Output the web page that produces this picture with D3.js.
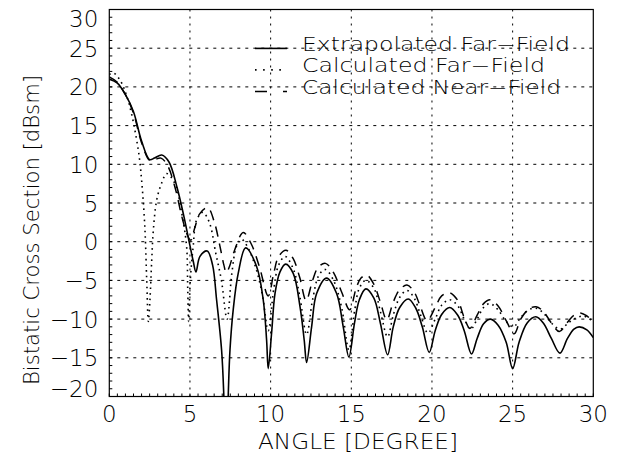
<!DOCTYPE html>
<html>
<head>
<meta charset="utf-8">
<script src="https://cdn.jsdelivr.net/npm/d3@7"></script>
<style>
  body { margin: 0; background: #fff; }
  text { font-family: "DejaVu Sans ExtraLight", "DejaVu Sans", sans-serif; font-weight: 200; fill: #000; }
</style>
</head>
<body>
<div id="chart"></div>
<script>
// angle [deg], bistatic RCS [dBsm]
const extrapolatedFF = [
  [0, 21.0], [0.5, 20.5], [1.0, 19.0], [1.5, 16.8], [2.0, 13.0], [2.5, 10.6], [2.8, 10.8],
  [3.25, 11.2], [3.7, 10.3], [4.2, 7.0], [4.6, 3.5], [4.9, 0.5], [5.2, -2.5], [5.37, -3.9],
  [5.62, -1.9], [6.07, -1.2], [6.4, -3.0], [6.65, -7.5], [6.96, -14], [7.1, -20], [7.23, -30],
  [7.37, -20], [7.48, -14], [7.68, -8.8], [7.99, -4.1], [8.45, -0.8], [9.13, -3.2], [9.54, -7.5],
  [9.75, -12.7], [9.85, -16.4], [10.06, -11.8], [10.27, -6.7], [10.58, -3.9], [10.93, -2.9],
  [11.4, -4.1], [11.82, -8.4], [12.08, -12.7], [12.23, -15.6], [12.54, -11], [12.85, -6.7],
  [13.47, -4.7], [14.09, -6.7], [14.5, -11], [14.85, -14.9], [15.2, -10.5], [15.5, -7.5],
  [15.9, -6.1], [16.4, -7.3], [16.8, -10.5], [17.25, -14.6], [17.6, -11], [18.0, -8.5],
  [18.53, -7.4], [19.0, -8.6], [19.4, -11], [19.83, -14.3], [20.2, -11.5], [20.6, -9.4],
  [21.1, -8.5], [21.6, -9.5], [22.0, -11.5], [22.45, -14.5], [22.8, -12.5], [23.2, -10.6],
  [23.63, -10.0], [24.1, -10.8], [24.6, -13], [25.0, -16.4], [25.4, -13], [25.9, -10.5],
  [26.44, -9.7], [26.9, -10.5], [27.4, -12.5], [27.93, -14.4], [28.4, -12.5], [28.8, -11.3],
  [29.12, -11.0], [29.6, -11.4], [30.0, -12.4]
];

const calculatedFF = [
  [0, 21.6], [0.25, 21.8], [0.66, 20.9], [1.2, 18.0], [1.8, 11.8], [2.0, 8.0], [2.2, 2.0],
  [2.32, -5.0], [2.42, -10.3], [2.52, -7.5], [2.63, -2.4], [2.73, 1.5], [2.94, 5.4], [3.25, 7.6],
  [3.56, 8.8], [4.07, 7.5], [4.49, 3.7], [4.79, -0.6], [4.86, -6.0], [4.92, -10.3], [5.02, -5.0],
  [5.2, -0.6], [5.41, 2.8], [5.8, 3.8], [6.2, 2.5], [6.6, -1.5], [6.95, -5], [7.3, -10],
  [7.6, -4], [7.9, -0.5], [8.2, 0.3], [8.6, -0.8], [9.1, -3.5], [9.5, -7], [9.85, -11.5],
  [10.2, -6], [10.5, -3], [10.9, -1.9], [11.4, -3.5], [11.8, -7], [12.23, -12], [12.6, -7.5],
  [13.0, -4.3], [13.4, -3.6], [13.9, -5.0], [14.4, -8.5], [14.85, -14], [15.2, -9], [15.5, -6],
  [15.9, -5.0], [16.4, -6], [16.8, -9], [17.25, -12.3], [17.6, -9.5], [18.0, -7.2],
  [18.45, -6.3], [18.9, -7.3], [19.3, -9.5], [19.75, -11.8], [20.2, -10], [20.6, -8.2],
  [21.1, -7.5], [21.6, -8.3], [22.0, -10], [22.4, -11.3], [22.8, -10], [23.2, -8.5],
  [23.6, -8.0], [24.1, -8.8], [24.6, -10.3], [25.05, -11.0], [25.5, -9.8], [26.0, -8.8],
  [26.45, -8.6], [26.9, -9.2], [27.4, -10.5], [27.95, -11.3], [28.5, -10.4], [29.0, -9.8],
  [29.4, -9.6], [30.0, -10.3]
];

const calculatedNF = [
  [0, 21.3], [0.5, 20.6], [1.0, 19.0], [1.5, 16.6], [2.0, 12.8], [2.5, 10.5], [2.8, 10.6],
  [3.2, 10.8], [3.6, 9.9], [4.1, 6.8], [4.5, 3.2], [4.85, 0.8], [5.05, 0.2], [5.3, 1.8],
  [5.6, 3.6], [6.1, 4.4], [6.5, 2.6], [6.85, -0.5], [7.1, -3.0], [7.25, -4.0], [7.45, -3.2],
  [7.75, -1.2], [8.3, 1.2], [8.8, -0.3], [9.3, -3.2], [9.85, -7.0], [10.2, -4.0], [10.5, -1.9],
  [10.95, -1.1], [11.4, -2.2], [11.8, -4.6], [12.2, -7.6], [12.6, -5.0], [12.95, -3.3],
  [13.4, -2.8], [13.9, -4.0], [14.4, -6.5], [14.9, -8.8], [15.3, -6.0], [15.6, -4.7],
  [15.95, -4.3], [16.4, -5.5], [16.8, -7.8], [17.2, -10.1], [17.6, -7.8], [18.0, -6.2],
  [18.45, -5.6], [18.9, -6.5], [19.3, -8.5], [19.7, -10.2], [20.2, -8.5], [20.6, -7.0],
  [21.1, -6.6], [21.6, -7.6], [22.0, -9.8], [22.35, -11.2], [22.8, -9.5], [23.2, -8.0],
  [23.6, -7.5], [24.1, -8.3], [24.6, -10.2], [25.1, -11.9], [25.5, -10], [26.0, -8.7],
  [26.45, -8.4], [26.9, -9.0], [27.4, -10.5], [27.9, -11.6], [28.4, -10.4], [28.8, -9.5],
  [29.2, -9.2], [29.6, -9.6], [30.0, -10.3]
];

const legendLabels = ["Extrapolated Far\u2212Field", "Calculated Far\u2212Field", "Calculated Near\u2212Field"];
const xTicks = [0, 5, 10, 15, 20, 25, 30];
const yTicks = [-20, -15, -10, -5, 0, 5, 10, 15, 20, 25, 30];

const width = 618, height = 464;
const margin = { top: 9.5, right: 24.7, bottom: 67.5, left: 109.3 };

const svg = d3.select("#chart").append("svg")
    .attr("width", width)
    .attr("height", height);

const x = d3.scaleLinear().domain([0, 30]).range([margin.left, width - margin.right]);
const y = d3.scaleLinear().domain([-20, 30]).range([height - margin.bottom, margin.top]);

const fmt = d => (d < 0 ? "\u2212" + Math.abs(d) : String(d));

// dotted grid
svg.append("g").selectAll("line")
    .data(xTicks.slice(1, -1))
    .enter().append("line")
    .attr("x1", d => x(d)).attr("x2", d => x(d))
    .attr("y1", y(-20)).attr("y2", y(30))
    .attr("stroke", "#000").attr("stroke-width", 1)
    .attr("stroke-dasharray", "2,5");

svg.append("g").selectAll("line")
    .data(yTicks.slice(1, -1))
    .enter().append("line")
    .attr("x1", x(0)).attr("x2", x(30))
    .attr("y1", d => y(d)).attr("y2", d => y(d))
    .attr("stroke", "#000").attr("stroke-width", 1)
    .attr("stroke-dasharray", "3,5");

// minor ticks
svg.append("g").selectAll("line")
    .data(d3.range(-20, 31, 1))
    .enter().append("line")
    .attr("x1", x(0)).attr("x2", x(0) + 3)
    .attr("y1", d => y(d)).attr("y2", d => y(d))
    .attr("stroke", "#000");

svg.append("g").selectAll("line")
    .data(d3.range(0, 30.01, 0.5))
    .enter().append("line")
    .attr("x1", d => x(d)).attr("x2", d => x(d))
    .attr("y1", y(-20)).attr("y2", y(-20) - 3)
    .attr("stroke", "#000");

// frame
svg.append("rect")
    .attr("x", x(0)).attr("y", y(30))
    .attr("width", x(30) - x(0)).attr("height", y(-20) - y(30))
    .attr("fill", "none").attr("stroke", "#000").attr("stroke-width", 1.2);

// tick labels
svg.append("g").selectAll("text")
    .data(xTicks)
    .enter().append("text")
    .attr("x", d => x(d))
    .attr("y", y(-20) + 25)
    .attr("text-anchor", "middle")
    .style("font-size", "23px")
    .text(fmt);

svg.append("g").selectAll("text")
    .data(yTicks)
    .enter().append("text")
    .attr("x", x(0) - 11)
    .attr("y", d => y(d) + 8.5 + (d === 30 ? 8.5 : d === -20 ? -8.5 : 0))
    .attr("text-anchor", "end")
    .style("font-size", "23px")
    .text(fmt);

// axis titles
svg.append("text")
    .attr("x", 358).attr("y", 449)
    .attr("text-anchor", "middle")
    .attr("textLength", 200).attr("lengthAdjust", "spacingAndGlyphs")
    .style("font-size", "22px")
    .text("ANGLE [DEGREE]");

svg.append("text")
    .attr("transform", "translate(39,230) rotate(-90)")
    .attr("text-anchor", "middle")
    .attr("textLength", 310).attr("lengthAdjust", "spacingAndGlyphs")
    .style("font-size", "22px")
    .text("Bistatic Cross Section [dBsm]");

// curves
const line = d3.line()
    .x(d => x(d[0]))
    .y(d => y(d[1]))
    .curve(d3.curveCatmullRom.alpha(0.5));

svg.append("clipPath").attr("id", "plotClip")
  .append("rect")
    .attr("x", x(0)).attr("y", y(30))
    .attr("width", x(30) - x(0)).attr("height", y(-20) - y(30));

const styles = [
  { data: extrapolatedFF, dash: null, width: 1.6 },
  { data: calculatedFF, dash: "1.6,4", width: 1.6 },
  { data: calculatedNF, dash: "10,7", width: 1.5 }
];

const curves = svg.append("g").attr("clip-path", "url(#plotClip)");
styles.forEach(s => {
  curves.append("path")
      .datum(s.data)
      .attr("d", line)
      .attr("fill", "none")
      .attr("stroke", "#000")
      .attr("stroke-width", s.width)
      .attr("stroke-dasharray", s.dash);
});

// legend
const legendWidths = [268, 243, 259];
const legend = svg.append("g");
legendLabels.forEach((label, i) => {
  const ly = 50.7 + i * 21.5;
  legend.append("line")
      .attr("x1", 255).attr("x2", 287)
      .attr("y1", ly - 2.3).attr("y2", ly - 2.3)
      .attr("stroke", "#000")
      .attr("stroke-width", styles[i].width)
      .attr("stroke-dasharray", i === 1 ? "1.6,6.5" : i === 2 ? "12,16" : null);
  legend.append("text")
      .attr("x", 302).attr("y", ly)
      .attr("textLength", legendWidths[i]).attr("lengthAdjust", "spacingAndGlyphs")
      .style("font-size", "19px")
      .text(label);
});
</script>
</body>
</html>
